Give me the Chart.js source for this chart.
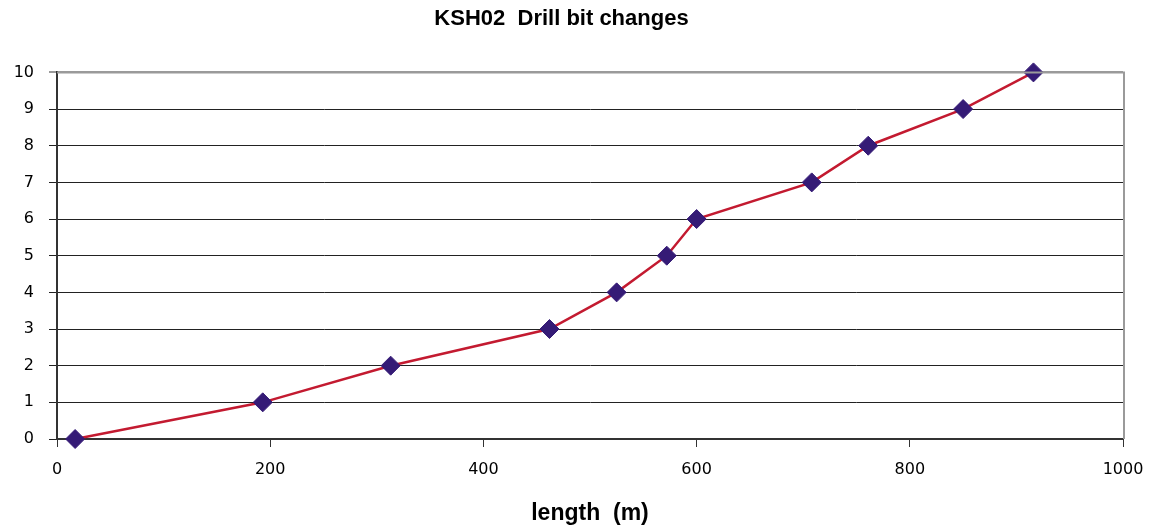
<!DOCTYPE html>
<html>
<head>
<meta charset="utf-8">
<title>KSH02 Drill bit changes</title>
<script src="https://cdn.jsdelivr.net/npm/chart.js@4.4.1/dist/chart.umd.min.js"></script>
<style>
  html, body { margin: 0; padding: 0; background: #fff; }
  #wrap { width: 1151px; height: 529px; }
</style>
</head>
<body>
<div id="wrap"><canvas id="bitChart" width="1151" height="529"></canvas></div>
<script>
// borehole length (m) at which each bit change happened
const lengths = [17, 193, 313, 462, 525, 572, 600, 708, 761, 850, 916];
// running count of bit changes
const changes = [0, 1, 2, 3, 4, 5, 6, 7, 8, 9, 10];
const xTicks = [0, 200, 400, 600, 800, 1000];
const yTicks = [0, 1, 2, 3, 4, 5, 6, 7, 8, 9, 10];

const TITLE_FONT = "'Liberation Sans', Arial, Helvetica, sans-serif";
const TICK_FONT = "'DejaVu Sans', Verdana, sans-serif";

// grey frame on the top and right edges of the plot
const frame = {
  id: 'frame',
  afterDatasetsDraw(chart) {
    const { ctx, chartArea: a } = chart;
    ctx.save();
    ctx.strokeStyle = '#9a9a9a';
    ctx.lineWidth = 2;
    ctx.beginPath();
    ctx.moveTo(a.left, a.top);
    ctx.lineTo(a.right + 1, a.top);
    ctx.lineTo(a.right + 1, a.bottom);
    ctx.stroke();
    ctx.restore();
  }
};

const ctx = document.getElementById('bitChart').getContext('2d');
const bitChart = new Chart(ctx, {
  type: 'scatter',
  data: {
    datasets: [{
      data: lengths.map((x, i) => ({ x: x, y: changes[i] })),
      showLine: true,
      clip: false,
      borderColor: '#c31a30',
      borderWidth: 2.5,
      pointStyle: 'rectRot',
      pointRadius: 9.5,
      pointHoverRadius: 9.5,
      pointBackgroundColor: '#351b76',
      pointBorderColor: '#351b76',
      pointBorderWidth: 1
    }]
  },
  options: {
    responsive: false,
    animation: false,
    layout: { padding: { left: 0, right: 28, top: 0, bottom: 0 } },
    plugins: {
      legend: { display: false },
      tooltip: { enabled: false },
      title: {
        display: true,
        text: 'KSH02  Drill bit changes',
        color: '#000',
        font: { family: TITLE_FONT, size: 22, weight: 'bold' },
        padding: { top: 6, bottom: 40 }
      }
    },
    scales: {
      x: {
        type: 'linear',
        min: 0,
        max: 1000,
        afterBuildTicks: (s) => { s.ticks = xTicks.map(v => ({ value: v })); },
        afterFit: (s) => { s.height = 90; s.paddingLeft = 0; s.paddingRight = 0; },
        grid: {
          drawOnChartArea: false,
          drawTicks: true,
          tickLength: 8,
          color: '#333'
        },
        border: { display: true, color: '#333', width: 2 },
        ticks: {
          color: '#000',
          padding: 13,
          maxRotation: 0,
          font: { family: TICK_FONT, size: 16 },
          callback: (v) => String(v)
        },
        title: {
          display: true,
          text: 'length  (m)',
          color: '#000',
          font: { family: TITLE_FONT, size: 23, weight: 'bold' },
          padding: { top: 0, bottom: 2 }
        }
      },
      y: {
        type: 'linear',
        min: 0,
        max: 10,
        afterBuildTicks: (s) => { s.ticks = yTicks.map(v => ({ value: v })); },
        afterFit: (s) => { s.width = 57; s.paddingTop = 0; s.paddingBottom = 0; },
        grid: {
          drawTicks: true,
          tickLength: 8,
          color: (c) => c.tick && c.tick.value === 10 ? '#9a9a9a' : '#222',
          lineWidth: (c) => c.tick && c.tick.value === 10 ? 2 : 1
        },
        border: { display: true, color: '#333', width: 2 },
        ticks: {
          color: '#000',
          padding: 15,
          font: { family: TICK_FONT, size: 16 }
        }
      }
    }
  },
  plugins: [frame]
});
</script>
</body>
</html>
